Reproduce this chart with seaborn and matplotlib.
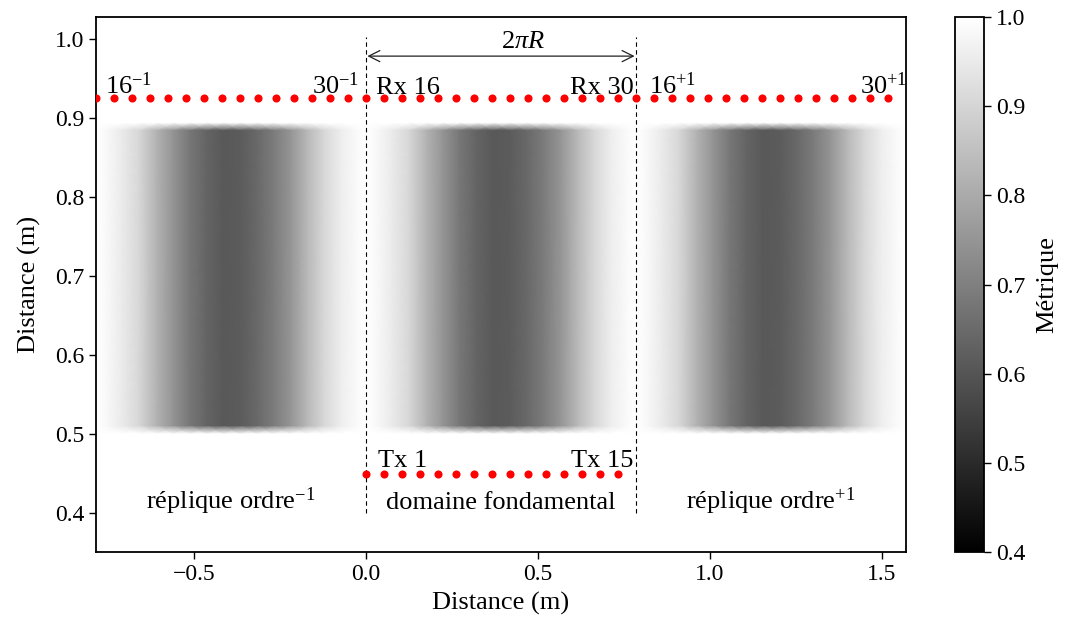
import numpy as np
import pandas as pd
import seaborn as sns
import matplotlib.pyplot as plt

# geometry: array radius and period along x
R = 0.125
period = 2 * np.pi * R

# metric profile across one period
profile_x = [0.000, 0.023, 0.077, 0.126, 0.176, 0.223, 0.273, 0.322, 0.370,
             0.419, 0.469, 0.516, 0.566, 0.616, 0.663, 0.713, 0.762, 0.785]
profile_val = [1.00, 0.99, 0.95, 0.906, 0.82, 0.75, 0.68, 0.635, 0.61,
               0.617, 0.647, 0.69, 0.75, 0.835, 0.906, 0.96, 0.99, 1.00]
band_y = [0.501, 0.511, 0.885, 0.894]
band_w = [0.0, 1.0, 1.0, 0.0]
replica_shift = [-period, 0.0, period]

# antenna positions
elem_x = [0.000, 0.052, 0.105, 0.157, 0.209, 0.262, 0.314, 0.367,
          0.419, 0.471, 0.524, 0.576, 0.628, 0.681, 0.733]
rx_y = 0.925
tx_y = 0.45

rx_labels = ['$16^{-1}$', '$30^{-1}$', 'Rx 16', 'Rx 30', '$16^{+1}$', '$30^{+1}$']
rx_label_x = [-0.760, -0.020, 0.029, 0.778, 0.822, 1.573]
rx_label_ha = ['left', 'right', 'left', 'right', 'left', 'right']
tx_labels = ['Tx 1', 'Tx 15']
tx_label_x = [0.035, 0.778]
tx_label_ha = ['left', 'right']
region_labels = ['réplique ordre$^{-1}$', 'domaine fondamental', 'réplique ordre$^{+1}$']

sns.set_theme(style='ticks')
plt.rcParams['font.family'] = ['Liberation Serif', 'DejaVu Serif']
plt.rcParams['mathtext.fontset'] = 'custom'
plt.rcParams['mathtext.rm'] = 'Liberation Serif'
plt.rcParams['mathtext.it'] = 'Liberation Serif:italic'
plt.rcParams['axes.linewidth'] = 1.3
plt.rcParams['axes.edgecolor'] = 'black'
plt.rcParams['text.color'] = 'black'
plt.rcParams['axes.labelcolor'] = 'black'
plt.rcParams['xtick.color'] = 'black'
plt.rcParams['ytick.color'] = 'black'
plt.rcParams['xtick.major.size'] = 5
plt.rcParams['ytick.major.size'] = 5
plt.rcParams['xtick.major.width'] = 1.0
plt.rcParams['ytick.major.width'] = 1.0

fs = 19
fig = plt.figure(figsize=(10.72, 6.3), dpi=100)
ax = fig.add_axes([96 / 1072, 78 / 630, 810 / 1072, 535 / 630])
cax = fig.add_axes([955 / 1072, 78 / 630, 29 / 1072, 535 / 630])

# metric field, one block per replica
field = 1 - np.outer(band_w, 1 - np.array(profile_val))
for s in replica_shift:
    X, Y = np.meshgrid(np.array(profile_x) + s, band_y)
    mesh = ax.pcolormesh(X, Y, field, shading='gouraud', cmap='gray',
                         vmin=0.4, vmax=1.0, zorder=1)

# antennas
rx = pd.DataFrame({'x': np.concatenate([np.array(elem_x) + s for s in replica_shift]),
                   'y': rx_y})
tx = pd.DataFrame({'x': elem_x, 'y': tx_y})
dots = pd.concat([rx, tx], ignore_index=True)
sns.scatterplot(data=dots, x='x', y='y', color='red', s=34, linewidth=0,
                ax=ax, zorder=3)

# fundamental domain boundaries
for xv in [0.0, period]:
    ax.plot([xv, xv], [0.4, 1.003], color='black', lw=0.8, ls=(0, (4, 3)), zorder=2)

ax.annotate('', xy=(0.0, 0.9785), xytext=(period, 0.9785),
            arrowprops=dict(arrowstyle='<->', color='#222222', lw=0.9,
                            shrinkA=1, shrinkB=1, mutation_scale=20))
ax.text(period / 2, 0.982, r'$2\pi R$', fontsize=fs, ha='left', va='bottom')

for lab, xl, ha in zip(rx_labels, rx_label_x, rx_label_ha):
    ax.text(xl, 0.931, lab, fontsize=fs, ha=ha, va='baseline')
for lab, xl, ha in zip(tx_labels, tx_label_x, tx_label_ha):
    ax.text(xl, 0.458, lab, fontsize=fs, ha=ha, va='baseline')
for lab, s in zip(region_labels, replica_shift):
    ax.text(s + period / 2, 0.406, lab, fontsize=fs, ha='center', va='baseline')

ax.set_xlim(-period, 2 * period)
ax.set_ylim(0.351, 1.028)
ax.set_xticks([-0.5, 0.0, 0.5, 1.0, 1.5])
ax.set_yticks([0.4, 0.5, 0.6, 0.7, 0.8, 0.9, 1.0])
ax.set_xlabel('Distance (m)', fontsize=fs, labelpad=5)
ax.set_ylabel('Distance (m)', fontsize=fs, labelpad=10)
ax.tick_params(labelsize=17)

cb = fig.colorbar(mesh, cax=cax)
cb.set_ticks([0.4, 0.5, 0.6, 0.7, 0.8, 0.9, 1.0])
cb.ax.tick_params(labelsize=17)
cb.outline.set_linewidth(1.3)
cb.outline.set_edgecolor('black')
cb.set_label('Métrique', fontsize=fs, labelpad=8)

fig.savefig('out.png', dpi=100)
